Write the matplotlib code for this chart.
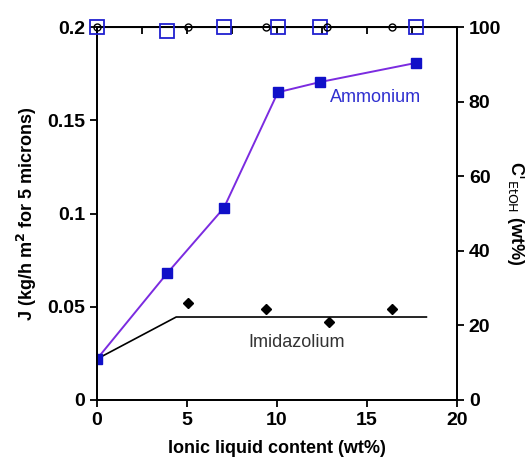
import numpy as np
import matplotlib.pyplot as plt

plt.rcParams['font.family'] = ['Liberation Sans', 'DejaVu Sans']

# Ammonium flux (left axis)
amm_x = [0, 3.9, 7.05, 10.05, 12.4, 17.7]
amm_j = [0.022, 0.068, 0.103, 0.165, 0.1705, 0.1807]
# Ethanol concentration for ammonium (right axis)
amm_c = [100, 98.8, 100, 100, 100, 100]

# Imidazolium flux (left axis)
imi_x = [5.05, 9.4, 12.9, 16.4]
imi_j = [0.052, 0.049, 0.042, 0.049]
imi_line_x = [0, 4.4, 18.3]
imi_line_j = [0.022, 0.0445, 0.0445]
# Ethanol concentration for imidazolium (right axis)
imi_cx = [0, 5.05, 9.4, 12.8, 16.4]
imi_c = [100, 100, 100, 100, 100]

fig = plt.figure(figsize=(5.3, 4.57), dpi=100)
ax = fig.add_axes([97/530, 57/457, 360/530, 373/457])
ax2 = ax.twinx()

ax.plot(amm_x, amm_j, color='#7b2be0', lw=1.4, zorder=2)
ax.plot(amm_x, amm_j, 's', ms=7, mfc='#1010c8', mec='#1010c8', zorder=3)
ax.plot(imi_line_x, imi_line_j, color='black', lw=1.2)
ax.plot(imi_x, imi_j, 'D', ms=5, mfc='black', mec='black')

ax2.plot(amm_x, amm_c, 's', ms=10, mfc='none', mec='#2020d0', mew=1.3, clip_on=False, zorder=4)
ax2.plot(imi_cx, imi_c, 'o', ms=5, mfc='none', mec='black', mew=1.0, clip_on=False, zorder=4)

ax.set_xlim(0, 20)
ax.set_ylim(0, 0.2)
ax2.set_ylim(0, 100)
ax.set_xticks([0, 5, 10, 15, 20])
ax.set_yticks([0, 0.05, 0.1, 0.15, 0.2])
ax.set_yticklabels(['0', '0.05', '0.1', '0.15', '0.2'])
ax2.set_yticks([0, 20, 40, 60, 80, 100])

for a in (ax, ax2):
    for s in a.spines.values():
        s.set_linewidth(1.3)
    a.tick_params(labelsize=14, width=1.3, length=5)
ax.tick_params(axis='x', bottom=True, direction='out')
ax.secondary_xaxis('top').tick_params(direction='in', labeltop=False, width=1.3, length=5)
ax.tick_params(axis='y', left=True, right=False)
for lbl in ax.get_xticklabels() + ax.get_yticklabels() + ax2.get_yticklabels():
    lbl.set_fontweight('bold')

ax.set_xlabel('Ionic liquid content (wt%)', fontsize=13, fontweight='bold', labelpad=8)
ax.set_ylabel(r'J (kg/h m$^\mathbf{2}$ for 5 microns)', fontsize=13, fontweight='bold', labelpad=6)
ax2.set_ylabel(r"C$'_{\rm EtOH}$ (wt%)", fontsize=13, fontweight='bold', rotation=270, labelpad=18)

ax.text(15.5, 0.162, 'Ammonium', color='#3030d0', fontsize=13, ha='center', va='center')
ax.text(11.1, 0.031, 'Imidazolium', color='#333333', fontsize=13, ha='center', va='center')

fig.savefig('out.png', dpi=100)
